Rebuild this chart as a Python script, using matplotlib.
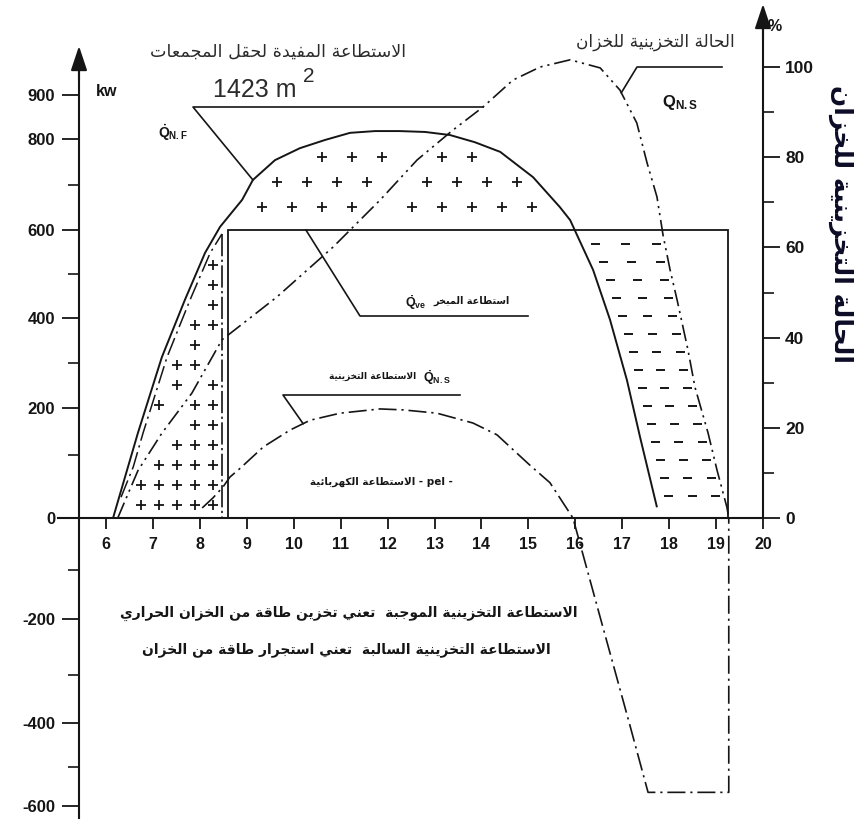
import numpy as np
import matplotlib
matplotlib.use("Agg")
import matplotlib.pyplot as plt
from matplotlib.path import Path
from matplotlib.collections import LineCollection

plt.rcParams["font.family"] = ["Liberation Sans", "DejaVu Sans"]
plt.rcParams["mathtext.fontset"] = "custom"
plt.rcParams["mathtext.rm"] = "Liberation Sans:bold"
plt.rcParams["mathtext.it"] = "Liberation Sans:bold"
plt.rcParams["mathtext.bf"] = "Liberation Sans:bold"
plt.rcParams["lines.scale_dashes"] = False

# ---------------------------------------------------------------- data
hour_ticks = list(range(6, 21))
kw_major = [-600, -400, -200, 0, 200, 400, 600, 800, 900]
kw_major_labels = ["-600", "-400", "-200", "0", "200", "400", "600", "800", "900"]
kw_minor = [-500, -300, -100, 100, 300, 500, 700]
pct_major = [0, 20, 40, 60, 80, 100]
pct_minor = [10, 30, 50, 70, 90]

# useful power of the collector field (kW)
qnf_hour = [6.15, 6.68, 7.19, 7.68, 8.11, 8.43, 8.90, 9.13, 9.60, 10.13, 10.67, 11.20,
            11.73, 12.26, 12.80, 13.33, 13.86, 14.40, 15.10, 15.67, 15.89, 16.38,
            16.74, 17.10, 17.38, 17.74]
qnf_kw = [0, 147, 313, 441, 548, 607, 667, 711, 754, 780, 798, 814,
          818, 818, 816, 809, 793, 772, 717, 651, 622, 509,
          396, 262, 138, 17]

# storage power while the evaporator is still off (kW)
charge_hour = [6.32, 6.58, 6.79, 7.30, 7.79, 8.22, 8.47]
charge_kw = [33, 81, 147, 313, 441, 548, 591]
switch_hour = 8.47

# storage power once the evaporator runs (kW)
qns_hour = [8.05, 8.28, 8.49, 8.64, 8.86, 9.35, 9.92, 10.35, 10.99, 11.84, 12.33,
            13.05, 13.82, 14.33, 15.03, 15.46, 15.95, 16.54, 17.15, 17.55, 19.27, 19.27]
qns_kw = [16, 32, 49, 65, 79, 117, 153, 174, 189, 198, 196,
          189, 168, 143, 84, 56, 0, -200, -400, -565, -565, 0]

# evaporator power (kW)
evap_start, evap_end, evap_kw = 8.60, 19.26, 600

# state of charge of the tank (%)
soc_hour = [6.25, 6.68, 7.19, 7.83, 8.47, 9.05, 9.64, 10.84, 11.84, 12.63, 13.39,
            14.03, 14.67, 15.25, 15.89, 16.53, 16.95, 17.31, 17.53, 17.74, 17.87,
            18.02, 18.17, 18.40, 18.55, 18.83, 19.02, 19.23, 19.27]
soc_pct = [0, 10.5, 18.8, 27.7, 39.5, 44.2, 49.0, 60.1, 70.5, 79.4, 86.0,
           91.1, 97.1, 100.0, 101.6, 99.8, 94.9, 87.6, 78.7, 71.2, 62.7,
           55.0, 48.3, 37.3, 29.0, 18.8, 10.6, 2.4, 0]

# texts
T_FIELD = "الاستطاعة المفيدة لحقل المجمعات"
T_SOC = "الحالة التخزينية للخزان"
T_QVE = "استطاعة المبخر"
T_QNS = "الاستطاعة التخزينية"
T_PEL = "الاستطاعة الكهربائية"
T_NOTE1 = "الاستطاعة التخزينية الموجبة  تعني تخزين طاقة من الخزان الحراري"
T_NOTE2 = "الاستطاعة التخزينية السالبة  تعني استجرار طاقة من الخزان"

# ---------------------------------------------------------------- arabic shaping
_FORMS = {
    'ء': ('\uFE80', None, None, None), 'آ': ('\uFE81', '\uFE82', None, None),
    'أ': ('\uFE83', '\uFE84', None, None), 'ؤ': ('\uFE85', '\uFE86', None, None),
    'إ': ('\uFE87', '\uFE88', None, None), 'ئ': ('\uFE89', '\uFE8A', '\uFE8B', '\uFE8C'),
    'ا': ('\uFE8D', '\uFE8E', None, None), 'ب': ('\uFE8F', '\uFE90', '\uFE91', '\uFE92'),
    'ة': ('\uFE93', '\uFE94', None, None), 'ت': ('\uFE95', '\uFE96', '\uFE97', '\uFE98'),
    'ث': ('\uFE99', '\uFE9A', '\uFE9B', '\uFE9C'), 'ج': ('\uFE9D', '\uFE9E', '\uFE9F', '\uFEA0'),
    'ح': ('\uFEA1', '\uFEA2', '\uFEA3', '\uFEA4'), 'خ': ('\uFEA5', '\uFEA6', '\uFEA7', '\uFEA8'),
    'د': ('\uFEA9', '\uFEAA', None, None), 'ذ': ('\uFEAB', '\uFEAC', None, None),
    'ر': ('\uFEAD', '\uFEAE', None, None), 'ز': ('\uFEAF', '\uFEB0', None, None),
    'س': ('\uFEB1', '\uFEB2', '\uFEB3', '\uFEB4'), 'ش': ('\uFEB5', '\uFEB6', '\uFEB7', '\uFEB8'),
    'ص': ('\uFEB9', '\uFEBA', '\uFEBB', '\uFEBC'), 'ض': ('\uFEBD', '\uFEBE', '\uFEBF', '\uFEC0'),
    'ط': ('\uFEC1', '\uFEC2', '\uFEC3', '\uFEC4'), 'ظ': ('\uFEC5', '\uFEC6', '\uFEC7', '\uFEC8'),
    'ع': ('\uFEC9', '\uFECA', '\uFECB', '\uFECC'), 'غ': ('\uFECD', '\uFECE', '\uFECF', '\uFED0'),
    'ف': ('\uFED1', '\uFED2', '\uFED3', '\uFED4'), 'ق': ('\uFED5', '\uFED6', '\uFED7', '\uFED8'),
    'ك': ('\uFED9', '\uFEDA', '\uFEDB', '\uFEDC'), 'ل': ('\uFEDD', '\uFEDE', '\uFEDF', '\uFEE0'),
    'م': ('\uFEE1', '\uFEE2', '\uFEE3', '\uFEE4'), 'ن': ('\uFEE5', '\uFEE6', '\uFEE7', '\uFEE8'),
    'ه': ('\uFEE9', '\uFEEA', '\uFEEB', '\uFEEC'), 'و': ('\uFEED', '\uFEEE', None, None),
    'ى': ('\uFEEF', '\uFEF0', None, None), 'ي': ('\uFEF1', '\uFEF2', '\uFEF3', '\uFEF4'),
}
_LAM_ALEF = {'ا': ('\uFEFB', '\uFEFC'), 'أ': ('\uFEF7', '\uFEF8'),
             'إ': ('\uFEF9', '\uFEFA'), 'آ': ('\uFEF5', '\uFEF6')}


def ar(text):
    """Join Arabic letters into their contextual forms and return visual order."""
    units = []
    i = 0
    while i < len(text):
        c = text[i]
        if c == 'ل' and i + 1 < len(text) and text[i + 1] in _LAM_ALEF:
            iso, fin = _LAM_ALEF[text[i + 1]]
            units.append((iso, fin, None, None))
            i += 2
            continue
        units.append(_FORMS.get(c, c))
        i += 1
    out = []
    for k, u in enumerate(units):
        if isinstance(u, str):
            out.append(u)
            continue
        prev = units[k - 1] if k > 0 else None
        nxt = units[k + 1] if k + 1 < len(units) else None
        jp = isinstance(prev, tuple) and prev[2] is not None
        jn = isinstance(nxt, tuple) and u[2] is not None
        if jp and jn:
            out.append(u[3])
        elif jp:
            out.append(u[1])
        elif jn:
            out.append(u[2])
        else:
            out.append(u[0])
    return "".join(reversed(out))


# ---------------------------------------------------------------- uneven kW axis
axis_kw = np.array([-1000, -600, -500, -400, -300, -200, -100, 0, 100, 200, 300,
                    400, 500, 600, 700, 800, 900, 2000], float)
axis_row = np.array([972, 806, 767, 723, 675, 619, 570, 518, 455, 408, 363,
                     318, 274, 230, 185, 139, 95, -389], float)


def kw_fwd(v):
    return -np.interp(v, axis_kw, axis_row)


def kw_inv(u):
    return np.interp(-np.asarray(u, float), axis_row[::-1], axis_kw[::-1])


W, H = 862, 823
fig = plt.figure(figsize=(W / 100, H / 100), dpi=100)
ax = fig.add_axes([0, 0, 1, 1])
ax.set_yscale("function", functions=(kw_fwd, kw_inv))
ax.set_xlim(3.741, 22.109)
ax.set_ylim(float(kw_inv(-H)), float(kw_inv(0)))
ax2 = ax.twinx()
ax2.set_ylim(-67.63, 114.86)

ov = fig.add_axes([0, 0, 1, 1])
ov.set_xlim(0, W)
ov.set_ylim(H, 0)
ov.axis("off")
ov.patch.set_visible(False)

INK = "#151515"
LW_AX = 1.5

# ---------------------------------------------------------------- axes
for s in ("top", "right"):
    ax.spines[s].set_visible(False)
ax.spines["left"].set_position(("data", 5.42))
ax.spines["left"].set_bounds(-628, 985)
ax.spines["bottom"].set_position(("data", 0))
ax.spines["bottom"].set_bounds(4.98, 20)
for s in ("left", "bottom"):
    ax.spines[s].set_linewidth(LW_AX)
    ax.spines[s].set_color(INK)

ax.set_xticks(hour_ticks)
ax.set_xticklabels([str(h) for h in hour_ticks], fontweight="bold", fontsize=11.5)
ax.tick_params(axis="x", direction="out", length=8, width=1.3, pad=6, colors=INK)

ax.set_yticks(kw_major)
ax.set_yticklabels(kw_major_labels, fontweight="bold", fontsize=12)
ax.set_yticks(kw_minor, minor=True)
ax.tick_params(axis="y", which="major", direction="out", length=12, width=1.3, pad=5, colors=INK)
ax.tick_params(axis="y", which="minor", direction="out", length=8, width=1.2, colors=INK)

for s in ("left", "top", "bottom"):
    ax2.spines[s].set_visible(False)
ax2.spines["right"].set_position(("data", 20))
ax2.spines["right"].set_bounds(0, 109)
ax2.spines["right"].set_linewidth(LW_AX)
ax2.spines["right"].set_color(INK)
ax2.set_yticks(pct_major)
ax2.set_yticklabels([str(p) for p in pct_major], fontweight="bold", fontsize=12.5)
ax2.set_yticks(pct_minor, minor=True)
ax2.tick_params(axis="y", which="major", direction="out", length=12, width=1.3, pad=4, colors=INK)
ax2.tick_params(axis="y", which="minor", direction="out", length=8, width=1.2, colors=INK)

# axis arrow heads
arrow = dict(arrowstyle="-|>,head_length=0.6,head_width=0.2", color=INK, lw=LW_AX,
             mutation_scale=25, shrinkA=0, shrinkB=0)
ov.annotate("", xy=(79, 46), xytext=(79, 80), arrowprops=arrow)
ov.annotate("", xy=(763, 4), xytext=(763, 40), arrowprops=arrow)
ov.text(107, 91, "kw", fontsize=11.5, fontweight="bold", ha="center", va="center", color=INK)
ov.text(775, 26, "%", fontsize=11.5, fontweight="bold", ha="center", va="center", color=INK)

# ---------------------------------------------------------------- curves
DASH_DOT = (0, (13, 3.5, 1.6, 3.5))
DASH_DOT_DOT = (0, (12, 3.5, 1.6, 3.5, 1.6, 3.5))
LONG_DASH_DOT = (0, (16, 2.5, 1.6, 2.5))

ax.plot(qnf_hour, qnf_kw, color=INK, lw=1.4, solid_capstyle="butt")
ax.plot(charge_hour, charge_kw, color=INK, lw=1.1, linestyle=DASH_DOT)
ax.plot([switch_hour, switch_hour], [charge_kw[-1], 0], color=INK, lw=1.2, linestyle=LONG_DASH_DOT)
ax.plot(qns_hour, qns_kw, color=INK, lw=1.2, linestyle=DASH_DOT)
ax.plot([evap_start, evap_start, evap_end, evap_end], [0, evap_kw, evap_kw, 0],
        color=INK, lw=1.3, solid_joinstyle="miter")
ax2.plot(soc_hour, soc_pct, color=INK, lw=1.2, linestyle=DASH_DOT_DOT)


# ---------------------------------------------------------------- hatching
def to_px(axis, xs, ys):
    pts = np.column_stack([np.asarray(xs, float), np.asarray(ys, float)])
    return ov.transData.inverted().transform(axis.transData.transform(pts))


hh_soc = np.linspace(soc_hour[0], soc_hour[-1], 600)
soc_line = to_px(ax2, hh_soc, np.interp(hh_soc, soc_hour, soc_pct))


def near_soc(x, y, d):
    return np.min(np.hypot(soc_line[:, 0] - x, soc_line[:, 1] - y)) < d


def inside(path, x, y, r):
    pts = [(x - r, y), (x + r, y), (x, y - r), (x, y + r),
           (x - r, y - r), (x + r, y + r), (x - r, y + r), (x + r, y - r)]
    return path.contains_points(pts).all()


plus_x, plus_y = [], []
# field power stored before the evaporator starts
poly1 = np.vstack([to_px(ax, charge_hour, charge_kw),
                   to_px(ax, [switch_hour, charge_hour[0]], [0, 0])])
path1 = Path(poly1)
for j in range(15):
    y = 505 - 20 * j
    for i in range(8):
        x = 213 - 18 * i
        if inside(path1, x, y, 5) and not near_soc(x, y, 8):
            plus_x.append(x)
            plus_y.append(y)
# field power above the evaporator demand
hh = np.linspace(qnf_hour[0], qnf_hour[-1], 500)
kk = np.interp(hh, qnf_hour, qnf_kw)
sel = kk >= evap_kw
poly2 = to_px(ax, hh[sel], kk[sel])
path2 = Path(np.vstack([poly2, poly2[:1]]))
for j, y in enumerate([207, 182, 157, 133]):
    for x in np.arange(262 + (j % 2) * 15, 570, 30):
        if inside(path2, x, y, 7) and not near_soc(x, y, 10):
            plus_x.append(x)
            plus_y.append(y)
ov.plot(plus_x, plus_y, linestyle="none", marker="+", ms=7.5, mew=1.3, color=INK)

# energy drawn from the tank after sunset: short horizontal dashes
hq = np.linspace(15.67, qnf_hour[-1], 200)
qd = to_px(ax, hq, np.interp(hq, qnf_hour, qnf_kw))
hs = np.linspace(16.53, soc_hour[-1], 200)
sd = to_px(ax2, hs, np.interp(hs, soc_hour, soc_pct))
segs = []
for y in np.arange(244, 500, 18):
    xl = np.interp(y, qd[:, 1], qd[:, 0])
    xr = np.interp(y, sd[:, 1], sd[:, 0])
    if xr - xl < 25:
        continue
    for c in np.linspace(xl + 14, xr - 8, 3):
        segs.append([(c - 4.5, y), (c + 4.5, y)])
ov.add_collection(LineCollection(segs, colors=INK, linewidths=1.4))

# ---------------------------------------------------------------- labels & leaders
TXT = "#2b2b2b"
lead = dict(color=INK, lw=1.2)

tip = to_px(ax, [9.13], [np.interp(9.13, qnf_hour, qnf_kw)])[0]
ov.plot([tip[0], 193, 483], [tip[1], 107, 107], **lead)
ov.text(278, 52, ar(T_FIELD), family="DejaVu Sans", fontsize=12.6, ha="center", va="center", color=TXT)
ov.text(213, 90, "1423 m", fontsize=18, ha="left", va="center", color=TXT)
ov.text(303, 76, "2", fontsize=15, ha="left", va="center", color=TXT)
ov.text(158, 133, r"$\dot{\mathbf{Q}}_{\mathbf{N.F}}$", fontsize=10, ha="left", va="center", color=INK)

tip = to_px(ax2, [16.98], [np.interp(16.98, soc_hour, soc_pct)])[0]
ov.plot([tip[0], 637, 722], [tip[1], 67, 67], **lead)
ov.text(655, 42, ar(T_SOC), family="DejaVu Sans", fontsize=12.2, ha="center", va="center", color=TXT)
ov.text(662, 102, r"$\mathbf{Q}_{\mathbf{N.S}}$", fontsize=12, ha="left", va="center", color=INK)
ov.text(841, 224, ar(T_SOC), family="DejaVu Sans", fontsize=18, fontweight="bold",
        rotation=270, ha="center", va="center", color="#0c0c26")

tip = to_px(ax, [10.26], [evap_kw])[0]
ov.plot([tip[0], 360, 528], [tip[1], 316, 316], **lead)
ov.text(405, 303, r"$\dot{\mathbf{Q}}_{\mathbf{ve}}$", fontsize=9, ha="left", va="center", color=INK)
ov.text(472, 301, ar(T_QVE), family="DejaVu Sans", fontsize=7, fontweight="bold",
        ha="center", va="center", color=INK)

tip = to_px(ax, [10.2], [np.interp(10.2, qns_hour, qns_kw)])[0]
ov.plot([tip[0], 283, 460], [tip[1], 395, 395], **lead)
ov.text(373, 376, ar(T_QNS), family="DejaVu Sans", fontsize=6.5, fontweight="bold",
        ha="center", va="center", color=INK)
ov.text(423, 378, r"$\dot{\mathbf{Q}}_{\mathbf{N.S}}$", fontsize=9, ha="left", va="center", color=INK)

ov.text(381, 482, ar(T_PEL) + " - pel -", family="DejaVu Sans", fontsize=7.5, fontweight="bold",
        ha="center", va="center", color=INK)

ov.text(349, 613, ar(T_NOTE1), family="DejaVu Sans", fontsize=10, fontweight="bold",
        ha="center", va="center", color=INK)
ov.text(346, 650, ar(T_NOTE2), family="DejaVu Sans", fontsize=10, fontweight="bold",
        ha="center", va="center", color=INK)

fig.savefig("out.png", dpi=100)
